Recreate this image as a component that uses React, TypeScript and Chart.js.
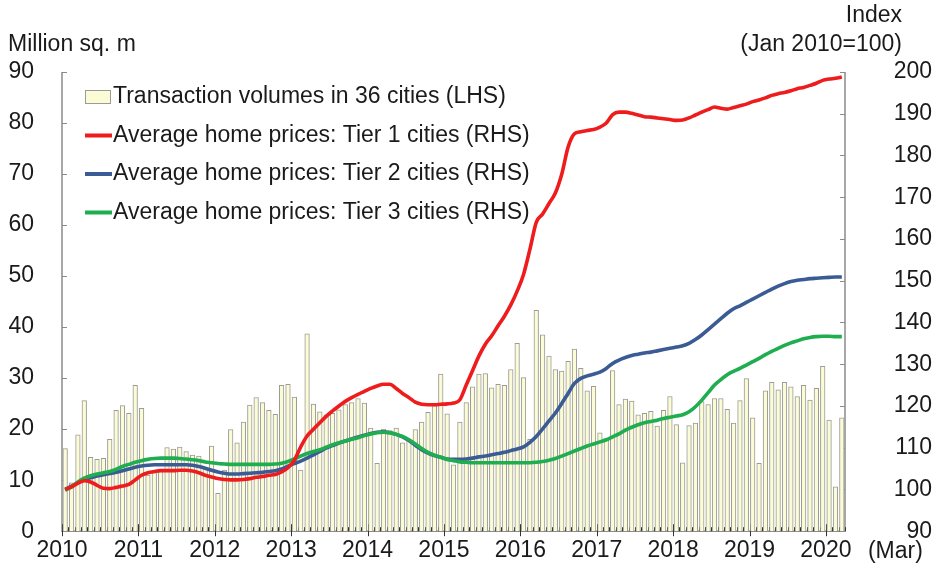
import React, { useEffect, useRef } from 'react';
import { Chart, registerables } from 'chart.js';

Chart.register(...registerables);

// ---------------- data ----------------
const yearLabels = ['2010', '2011', '2012', '2013', '2014', '2015', '2016', '2017', '2018', '2019', '2020'];
const lastLabelSuffix = '(Mar)';
const leftTitle = 'Million sq. m';
const rightTitle1 = 'Index';
const rightTitle2 = '(Jan 2010=100)';
const legendLabels = [
  'Transaction volumes in 36 cities (LHS)',
  'Average home prices: Tier 1 cities (RHS)',
  'Average home prices: Tier 2 cities (RHS)',
  'Average home prices: Tier 3 cities (RHS)',
];

// monthly, Jan 2010 .. Mar 2020 (123 months), million sq. m
const volumes = [
  16.2, 9.5, 18.9, 25.6, 14.5, 14.1, 14.3, 18.0, 23.7, 24.6, 23.1, 28.6,
  24.1, 11.0, 11.5, 12.0, 16.4, 16.1, 16.5, 15.6, 14.9, 14.7, 12.5, 16.7,
  7.4, 12.0, 19.9, 17.3, 21.4, 24.7, 26.2, 25.2, 23.7, 22.9, 28.6, 28.8,
  26.3, 12.0, 38.7, 24.9, 23.4, 22.8, 23.1, 23.8, 24.8, 25.2, 26.0, 25.1,
  20.2, 13.3, 20.0, 19.7, 20.2, 17.3, 18.0, 19.9, 21.4, 23.3, 24.6, 30.8,
  23.0, 13.0, 21.4, 25.2, 28.3, 30.8, 30.9, 28.1, 28.8, 28.6, 31.7, 36.8,
  30.1, 18.0, 43.3, 38.5, 34.3, 31.7, 31.4, 33.3, 35.7, 31.9, 27.5, 28.4,
  19.3, 18.1, 31.5, 24.8, 25.9, 25.5, 22.8, 23.1, 23.5, 20.6, 23.7, 26.4,
  20.9, 13.4, 20.7, 21.2, 25.4, 24.8, 26.0, 26.0, 23.9, 21.2, 25.6, 29.9,
  22.2, 13.3, 27.5, 29.2, 27.7, 29.2, 28.3, 26.4, 28.6, 25.7, 28.0, 32.3,
  21.8, 8.7, 22.2,
];

// index, Jan 2010 = 100
const tier1 = [
  100.0, 100.6, 101.5, 102.1, 101.8, 101.0, 100.3, 100.2, 100.5, 100.8, 101.2, 102.3,
  103.4, 104.0, 104.3, 104.5, 104.5, 104.5, 104.6, 104.6, 104.4, 104.0, 103.4, 103.0,
  102.6, 102.4, 102.3, 102.3, 102.4, 102.6, 102.9, 103.1, 103.4, 103.6, 104.2, 105.2,
  107.0, 110.2, 112.8, 114.4, 116.0, 117.5, 118.8, 120.0, 121.1, 122.0, 122.8, 123.5,
  124.2, 124.8, 125.2, 125.2, 124.2, 123.0, 122.0, 120.9, 120.4, 120.3, 120.3, 120.4,
  120.5, 120.7, 121.5, 125.0, 128.5, 132.0, 134.8, 136.8, 139.2, 141.5, 144.2, 147.5,
  151.5, 157.5, 164.0, 166.0, 168.5, 171.0, 175.5, 182.0, 185.2, 185.7, 186.0, 186.2,
  186.8, 187.8, 189.8, 190.4, 190.4, 190.1, 189.7, 189.3, 189.2, 189.0, 188.8, 188.6,
  188.4, 188.5, 189.0, 189.7, 190.4, 191.0, 191.6, 191.3, 191.1, 191.5, 191.9, 192.3,
  192.9, 193.3, 193.8, 194.4, 194.8, 195.1, 195.5, 196.0, 196.3, 196.8, 197.3, 198.0,
  198.3, 198.5, 198.8,
];

const tier2 = [
  100.0, 100.8, 101.6, 102.4, 102.8, 103.2, 103.5, 103.8, 104.1, 104.5, 104.9, 105.3,
  105.6, 105.8, 105.9, 105.9, 105.9, 105.9, 105.9, 105.9, 105.8, 105.5, 105.1, 104.6,
  104.2, 103.9, 103.7, 103.7, 103.8, 103.9, 104.0, 104.1, 104.3, 104.5, 104.9, 105.6,
  106.2, 106.8, 107.5, 108.3, 109.1, 109.9, 110.5, 111.1, 111.6, 112.1, 112.6, 113.0,
  113.4, 113.7, 113.8, 113.6, 113.2, 112.6, 111.7, 110.6, 109.5, 108.7, 108.1, 107.7,
  107.3, 107.2, 107.2, 107.3, 107.5, 107.8, 108.0, 108.3, 108.6, 108.9, 109.3, 109.7,
  110.2, 111.3, 112.7, 114.5, 116.4, 118.3, 120.6, 123.0, 125.4, 126.6, 127.2, 127.6,
  128.1, 129.0, 130.2, 131.0, 131.6, 132.1, 132.4, 132.7, 132.9, 133.2, 133.5, 133.8,
  134.1, 134.4, 135.0, 135.9, 137.0, 138.3, 139.6, 140.9, 142.2, 143.3, 144.0, 144.8,
  145.6, 146.4, 147.2, 148.0, 148.7, 149.3, 149.8, 150.1, 150.3, 150.5, 150.6, 150.7,
  150.8, 150.9, 150.9,
];

const tier3 = [
  99.8, 100.6, 101.8, 102.7, 103.3, 103.7, 104.0, 104.3, 104.8, 105.5, 106.0, 106.5,
  106.9, 107.2, 107.4, 107.5, 107.5, 107.5, 107.4, 107.3, 107.1, 106.9, 106.6, 106.4,
  106.2, 106.1, 106.0, 106.0, 106.0, 106.0, 106.0, 106.0, 106.0, 106.1, 106.3, 106.7,
  107.3, 108.0, 108.6, 109.1, 109.5, 110.1, 110.7, 111.2, 111.6, 112.0, 112.4, 112.9,
  113.3, 113.6, 113.7, 113.6, 113.2, 112.7, 111.9, 110.9, 109.8, 108.9, 108.2, 107.7,
  107.2, 106.9, 106.6, 106.5, 106.4, 106.4, 106.4, 106.4, 106.4, 106.4, 106.4, 106.4,
  106.4, 106.4, 106.5, 106.7, 107.0, 107.4, 108.0, 108.6, 109.2, 109.8, 110.4, 110.9,
  111.4, 111.9, 112.6, 113.3, 114.2, 114.9, 115.5, 116.0, 116.3, 116.6, 117.0, 117.3,
  117.6, 117.9, 118.6, 119.8, 121.4, 123.2, 125.0, 126.3, 127.5, 128.3, 129.0, 129.8,
  130.6, 131.4, 132.3, 133.1, 133.8, 134.5, 135.1, 135.6, 136.1, 136.4, 136.6, 136.7,
  136.7, 136.6, 136.6,
];

// ---------------- styles ----------------
const FONT = '"Liberation Sans", Arial, Helvetica, sans-serif';
const FONT_SIZE = 23;
const TEXT = '#1a1a1a';
const AXIS = '#8a8a8a';
const BAR_FILL = '#fbfbd6';
const BAR_EDGE = '#9a9a96';
const RED = '#ee1c1c';
const BLUE = '#3b5b95';
const GREEN = '#1fae4f';
const lineColors = [RED, BLUE, GREEN];

const decorPlugin = {
  id: 'decor',
  beforeDatasetsDraw(chart: any) {
    const { ctx, chartArea: ca, scales } = chart;
    const xs = scales.x;
    const yl = scales.y;
    const yr = scales.y1;
    ctx.save();
    ctx.strokeStyle = AXIS;
    ctx.lineWidth = 1.5;
    ctx.beginPath();
    ctx.moveTo(ca.left, ca.top);
    ctx.lineTo(ca.left, ca.bottom);
    ctx.lineTo(ca.right, ca.bottom);
    ctx.lineTo(ca.right, ca.top);
    ctx.stroke();
    ctx.lineWidth = 1.2;
    ctx.beginPath();
    for (let v = yl.min; v <= yl.max; v += 10) {
      const y = Math.round(yl.getPixelForValue(v)) + 0.5;
      ctx.moveTo(ca.left, y);
      ctx.lineTo(ca.left + 5, y);
    }
    for (let v = yr.min; v <= yr.max; v += 10) {
      const y = Math.round(yr.getPixelForValue(v)) + 0.5;
      ctx.moveTo(ca.right - 5, y);
      ctx.lineTo(ca.right, y);
    }
    ctx.stroke();
    ctx.strokeStyle = '#333';
    ctx.lineWidth = 1;
    ctx.beginPath();
    for (let m = 0; m <= volumes.length; m++) {
      const x = Math.round(xs.getPixelForValue(m)) + 0.5;
      if (m % 12 === 0) {
        ctx.moveTo(x, ca.bottom + 5);
        ctx.lineTo(x, ca.bottom - 7);
      } else {
        ctx.moveTo(x, ca.bottom);
        ctx.lineTo(x, ca.bottom - 4);
      }
    }
    ctx.stroke();
    ctx.restore();
  },
  afterDraw(chart: any) {
    const { ctx, chartArea: ca, scales } = chart;
    const xs = scales.x;
    ctx.save();
    ctx.font = `${FONT_SIZE}px ${FONT}`;
    ctx.fillStyle = TEXT;
    ctx.textBaseline = 'middle';
    // axis titles
    ctx.textAlign = 'left';
    ctx.fillText(leftTitle, 8, ca.top - 27);
    ctx.textAlign = 'right';
    ctx.fillText(rightTitle1, 902, ca.top - 56);
    ctx.fillText(rightTitle2, 902, ca.top - 27);
    // "(Mar)" after last year label
    ctx.textAlign = 'left';
    ctx.fillText(lastLabelSuffix, xs.getPixelForValue(120) + 42, ca.bottom + 20);
    // legend
    const lx = ca.left + 23;
    const tx = ca.left + 51;
    for (let k = 0; k < legendLabels.length; k++) {
      const y = ca.top + 25 + k * 38.5;
      if (k === 0) {
        ctx.fillStyle = BAR_FILL;
        ctx.fillRect(lx, y - 7, 26, 14);
        ctx.strokeStyle = BAR_EDGE;
        ctx.lineWidth = 1;
        ctx.strokeRect(lx + 0.5, y - 6.5, 25, 13);
      } else {
        ctx.strokeStyle = lineColors[k - 1];
        ctx.lineWidth = 4;
        ctx.beginPath();
        ctx.moveTo(lx, y);
        ctx.lineTo(lx + 27, y);
        ctx.stroke();
      }
      ctx.fillStyle = TEXT;
      ctx.fillText(legendLabels[k], tx, y);
    }
    ctx.restore();
  },
};

export default function App() {
  const ref = useRef<HTMLCanvasElement>(null);
  useEffect(() => {
    const canvas = ref.current;
    if (!canvas) return;
    const pts = (arr: number[]) => arr.map((v, i) => ({ x: i + 0.5, y: v }));
    const lineDs = (label: string, arr: number[], color: string, order: number) => ({
      type: 'line' as const,
      label,
      data: pts(arr),
      yAxisID: 'y1',
      borderColor: color,
      backgroundColor: color,
      borderWidth: 3.6,
      pointRadius: 0,
      cubicInterpolationMode: 'monotone' as const,
      order,
    });
    const tickFont = { family: FONT, size: FONT_SIZE };
    const chart = new Chart(canvas, {
      type: 'bar',
      data: {
        datasets: [
          {
            type: 'bar',
            label: legendLabels[0],
            data: pts(volumes),
            yAxisID: 'y',
            backgroundColor: BAR_FILL,
            borderColor: BAR_EDGE,
            borderWidth: 1,
            barThickness: 4.6,
            order: 10,
          } as any,
          lineDs(legendLabels[1], tier1, RED, 0),
          lineDs(legendLabels[2], tier2, BLUE, 2),
          lineDs(legendLabels[3], tier3, GREEN, 1),
        ],
      },
      options: {
        responsive: false,
        animation: false,
        events: [],
        layout: { padding: { top: 72, left: 0, right: 0, bottom: 0 } },
        plugins: { legend: { display: false }, tooltip: { enabled: false } },
        scales: {
          x: {
            type: 'linear',
            min: 0,
            max: volumes.length,
            offset: false,
            grid: { display: false, drawTicks: false },
            border: { display: false },
            ticks: {
              font: tickFont,
              color: TEXT,
              padding: 6,
              maxRotation: 0,
              autoSkip: false,
              callback: (v: any) => {
                const n = Number(v);
                return n % 12 === 0 ? yearLabels[n / 12] ?? '' : '';
              },
            },
            afterBuildTicks: (s: any) => {
              s.ticks = yearLabels.map((_, k) => ({ value: k * 12 }));
            },
            afterFit: (s: any) => {
              s.height = 37;
            },
          },
          y: {
            type: 'linear',
            position: 'left',
            min: 0,
            max: 90,
            grid: { display: false, drawTicks: false },
            border: { display: false },
            ticks: { stepSize: 10, font: tickFont, color: TEXT, padding: 28 },
            afterFit: (s: any) => {
              s.width = 62;
            },
          },
          y1: {
            type: 'linear',
            position: 'right',
            min: 90,
            max: 200,
            grid: { display: false, drawTicks: false },
            border: { display: false },
            ticks: { stepSize: 10, font: tickFont, color: TEXT, padding: 12, crossAlign: 'far' },
            afterFit: (s: any) => {
              s.width = 87;
            },
          },
        },
      } as any,
      plugins: [decorPlugin],
    });
    return () => chart.destroy();
  }, []);
  return (
    <div style={{ position: 'absolute', left: 0, top: 0, width: 932, height: 573, background: '#fff' }}>
      <canvas ref={ref} width={932} height={573} />
    </div>
  );
}
